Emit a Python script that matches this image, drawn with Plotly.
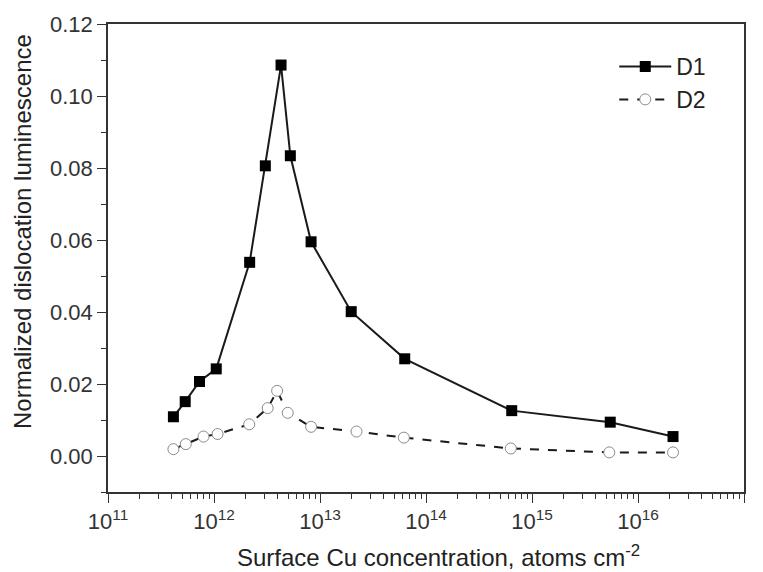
import plotly.graph_objects as go

# D1 (solid, filled squares)
d1_x = [4.14e11, 5.35e11, 7.3e11, 1.05e12, 2.17e12, 3.05e12, 4.29e12, 5.25e12,
        8.24e12, 1.97e13, 6.3e13, 6.44e14, 5.47e15, 2.14e16]
d1_y = [0.0109, 0.0151, 0.0207, 0.0242, 0.0538, 0.0806, 0.1086, 0.0834,
        0.0595, 0.0401, 0.0270, 0.0126, 0.0094, 0.0054]

# D2 (dashed, open circles)
d2_x = [4.14e11, 5.42e11, 7.96e11, 1.08e12, 2.15e12, 3.21e12, 3.94e12, 4.96e12,
        8.24e12, 2.21e13, 6.18e13, 6.31e14, 5.36e15, 2.14e16]
d2_y = [0.0019, 0.0033, 0.0054, 0.0061, 0.0088, 0.0133, 0.0181, 0.0120,
        0.0081, 0.0068, 0.0051, 0.0021, 0.0010, 0.0010]

x_tickvals = [1e11, 1e12, 1e13, 1e14, 1e15, 1e16, 1e17]
x_ticktext = ["10<sup>11</sup>", "10<sup>12</sup>", "10<sup>13</sup>", "10<sup>14</sup>",
              "10<sup>15</sup>", "10<sup>16</sup>", "10<sup>17</sup>"]
y_tickvals = [0.00, 0.02, 0.04, 0.06, 0.08, 0.10, 0.12]
y_ticktext = ["0.00", "0.02", "0.04", "0.06", "0.08", "0.10", "0.12"]

x_title = "Surface Cu concentration, atoms cm<sup>-2</sup>"
y_title = "Normalized dislocation luminescence"

FONT = "Arial, Liberation Sans, sans-serif"
AXC = "#333333"

fig = go.Figure()
fig.add_trace(go.Scatter(
    x=d1_x, y=d1_y, name="D1", mode="lines+markers",
    line=dict(color="#1a1a1a", width=2),
    marker=dict(symbol="square", size=11, color="black", line=dict(width=0)),
))
fig.add_trace(go.Scatter(
    x=d2_x, y=d2_y, name="D2", mode="lines+markers",
    line=dict(color="#1a1a1a", width=2, dash="dash"),
    marker=dict(symbol="circle", size=11, color="white",
                line=dict(width=1, color="#8a8a8a")),
))

fig.update_layout(
    width=763, height=572,
    margin=dict(l=108, r=19, t=24, b=80),
    plot_bgcolor="white", paper_bgcolor="white",
    font=dict(family=FONT, color="#222222"),
    showlegend=True,
    legend=dict(x=0.796, y=0.955, xanchor="left", yanchor="top",
                bgcolor="rgba(0,0,0,0)", font=dict(size=23, color="#222222"),
                tracegroupgap=0, itemwidth=52),
    annotations=[
        dict(text=x_title, xref="paper", yref="paper", x=0.5204, y=-0.136,
             xanchor="center", yanchor="middle", showarrow=False,
             font=dict(size=24, color="#222222")),
        dict(text=y_title, xref="paper", yref="paper", x=-0.1336, y=0.5556,
             xanchor="center", yanchor="middle", showarrow=False, textangle=-90,
             font=dict(size=24, color="#222222")),
    ],
)
fig.update_xaxes(
    type="log", range=[11, 17],
    tickvals=x_tickvals, ticktext=x_ticktext,
    tickfont=dict(size=22, color="#333333"),
    showline=True, linecolor=AXC, linewidth=1.5, mirror=True,
    ticks="outside", ticklen=9, tickwidth=1.2, tickcolor=AXC,
    minor=dict(ticks="outside", ticklen=5, tickwidth=1.2, tickcolor=AXC,
               tickvals=[m * 10 ** e for e in range(11, 17) for m in range(2, 10)]),
    showgrid=False, zeroline=False,
)
fig.update_yaxes(
    range=[-0.01, 0.12],
    tickvals=y_tickvals, ticktext=y_ticktext,
    tickfont=dict(size=22, color="#333333"),
    showline=True, linecolor=AXC, linewidth=1.5, mirror=True,
    ticks="outside", ticklen=9, tickwidth=1.2, tickcolor=AXC,
    minor=dict(ticks="outside", ticklen=5, tickwidth=1.2, tickcolor=AXC,
               tickvals=[-0.01, 0.01, 0.03, 0.05, 0.07, 0.09, 0.11]),
    showgrid=False, zeroline=False,
)

fig.write_html("out.html")
